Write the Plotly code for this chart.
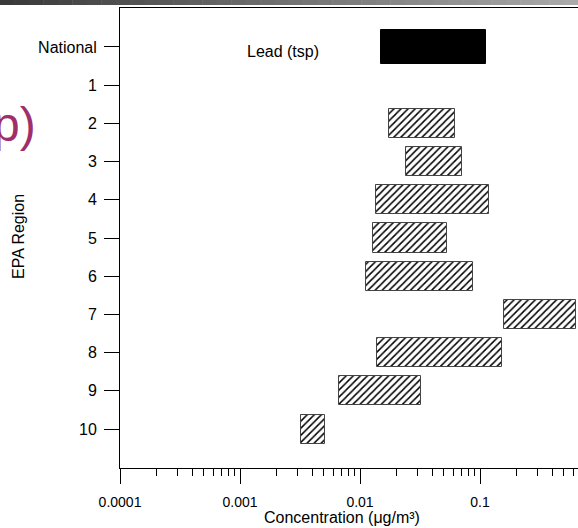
import plotly.graph_objects as go

# ---- data ----
categories = ["National", "1", "2", "3", "4", "5", "6", "7", "8", "9", "10"]
national_low = [0.0150]
national_high = [0.112]
region_names = ["2", "3", "4", "5", "6", "7", "8", "9", "10"]
region_low = [0.0176, 0.0242, 0.0136, 0.0128, 0.0113, 0.160, 0.0139, 0.00668, 0.00324]
region_high = [0.0615, 0.0708, 0.119, 0.0531, 0.0874, 0.631, 0.1535, 0.0321, 0.00514]
x_tickvals = [0.0001, 0.001, 0.01, 0.1]
x_ticktext = ["0.0001", "0.001", "0.01", "0.1"]
minor_ticks = [k * 10.0 ** e for e in range(-4, 0) for k in range(2, 10)]

W, H = 578, 528
ML, MR, MT, MB = 120, 0, 8, 60
PW, PH = W - ML - MR, H - MT - MB
FONT = "Liberation Sans, Arial, sans-serif"


def px_x(px):
    return (px - ML) / PW


def px_y(py):
    return 1 - (py - MT) / PH


fig = go.Figure()

fig.add_trace(go.Bar(
    y=categories[:1],
    x=[h - l for l, h in zip(national_low, national_high)],
    base=national_low,
    orientation="h",
    width=0.91,
    marker=dict(color="black", line=dict(color="black", width=1)),
    showlegend=False,
))

fig.add_trace(go.Bar(
    y=region_names,
    x=[h - l for l, h in zip(region_low, region_high)],
    base=region_low,
    orientation="h",
    width=0.76,
    marker=dict(
        color="white",
        line=dict(color="#444444", width=1),
        pattern=dict(shape="/", size=5, solidity=0.3, fgcolor="black",
                     bgcolor="white", fillmode="replace"),
    ),
    showlegend=False,
))

fig.update_xaxes(
    type="log",
    range=[-4, -4 + PW / 120],
    tickvals=x_tickvals,
    ticktext=x_ticktext,
    ticks="outside",
    ticklen=15,
    tickwidth=1,
    tickcolor="black",
    ticklabelstandoff=6,
    minor=dict(tickvals=minor_ticks, ticks="outside", ticklen=7,
               tickwidth=1, tickcolor="black", showgrid=False),
    showline=True,
    linecolor="black",
    linewidth=1,
    mirror=True,
    showgrid=False,
    zeroline=False,
    tickfont=dict(family=FONT, size=14, color="black"),
)

fig.update_yaxes(
    type="category",
    categoryorder="array",
    categoryarray=categories,
    range=[11.02, -1.02],
    ticks="outside",
    ticklen=15,
    tickwidth=1,
    tickcolor="black",
    ticklabelstandoff=4,
    showline=True,
    linecolor="black",
    linewidth=1,
    showgrid=False,
    zeroline=False,
    tickfont=dict(family=FONT, size=16, color="black"),
)

# decorative gradient bar at the top of the slide
shapes = []
n_seg = 40
for i in range(n_seg):
    x0 = i * W / n_seg
    x1 = (i + 1) * W / n_seg + 0.5
    t = i / (n_seg - 1)
    g = int(58 + t * (170 - 58))
    shapes.append(dict(type="rect", xref="paper", yref="paper",
                       x0=px_x(x0), x1=px_x(x1), y0=px_y(5), y1=px_y(0),
                       fillcolor=f"rgb({g},{g},{g})", line=dict(width=0),
                       layer="above"))

annotations = [
    dict(text="Lead (tsp)", xref="paper", yref="paper",
         x=px_x(283), y=px_y(51), xanchor="center", yanchor="middle",
         showarrow=False,
         font=dict(family=FONT, size=16, color="black")),
    dict(text="EPA Region", xref="paper", yref="paper",
         x=px_x(18), y=px_y(237), xanchor="center", yanchor="middle",
         textangle=-90, showarrow=False,
         font=dict(family=FONT, size=16, color="black")),
    dict(text="Concentration (μg/m³)", xref="paper", yref="paper",
         x=px_x(342), y=px_y(517), xanchor="center", yanchor="middle",
         showarrow=False,
         font=dict(family=FONT, size=16, color="black")),
    dict(text="p)", xref="paper", yref="paper",
         x=px_x(38), y=px_y(124), xanchor="right", yanchor="middle",
         showarrow=False,
         font=dict(family=FONT, size=48, color="#9e2f6b")),
]

fig.update_layout(
    width=W, height=H,
    margin=dict(l=ML, r=MR, t=MT, b=MB, pad=0),
    paper_bgcolor="white",
    plot_bgcolor="white",
    bargap=0,
    shapes=shapes,
    annotations=annotations,
    showlegend=False,
)

fig.write_html("out.html")
